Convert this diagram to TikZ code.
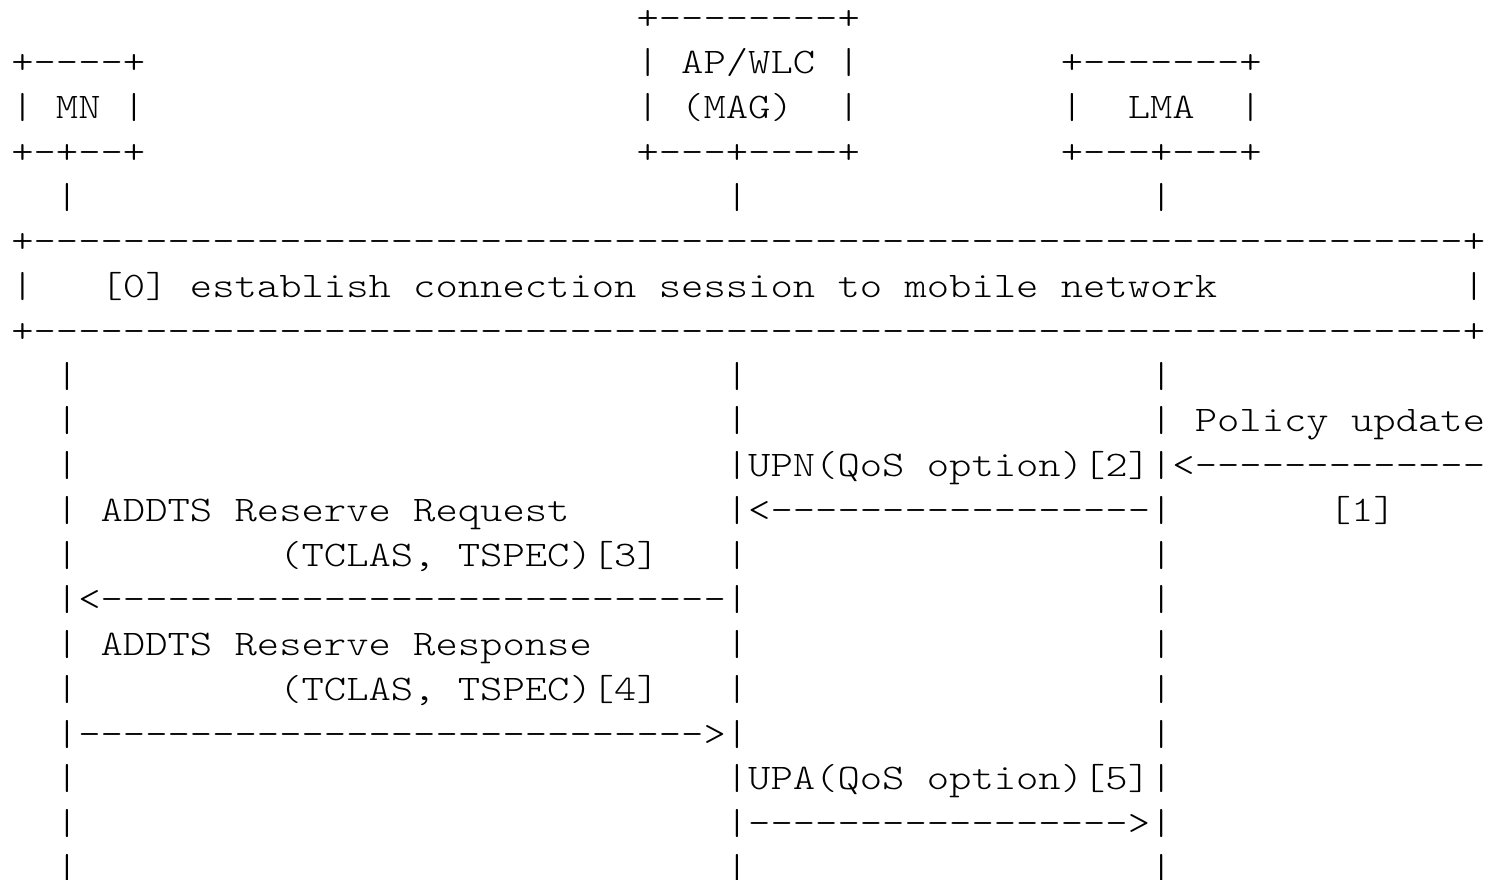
\documentclass[tikz,border=0pt]{standalone}
\usepackage{graphicx}

% one cell of the character grid is 22.33 x 44.75 units
\tikzset{
  ascii/.style={anchor=base west, inner sep=0pt, outer sep=0pt, text=black,
    font=\fontsize{18pt}{21pt}\ttfamily\fontseries{l}\selectfont}
}
% \putchunk{name}{column}{row}{text}
\newcommand\putchunk[4]{%
  \node[ascii] (#1) at ({11.3+22.33*#2},{29+44.75*#3}) {\scalebox{1.1815}[1]{#4}};}

\begin{document}
\begin{tikzpicture}[x=0.5pt, y=-0.5pt]
  \useasboundingbox (0,0) rectangle (1499,879);

  % entity boxes
  \putchunk{magTop}{28}{0}{+--------+}
  \putchunk{mnTop}{0}{1}{+----+}
  \putchunk{magA}{28}{1}{| AP/WLC |}
  \putchunk{lmaTop}{47}{1}{+-------+}
  \putchunk{mnMid}{0}{2}{| MN |}
  \putchunk{magB}{28}{2}{| (MAG)~~|}
  \putchunk{lmaMid}{47}{2}{|~~LMA~~|}
  \putchunk{mnBot}{0}{3}{+-+--+}
  \putchunk{magBot}{28}{3}{+---+----+}
  \putchunk{lmaBot}{47}{3}{+---+---+}

  % lifelines above the session box
  \putchunk{mnL4}{2}{4}{|}
  \putchunk{magL4}{32}{4}{|}
  \putchunk{lmaL4}{51}{4}{|}

  % session establishment box
  \putchunk{sesTop}{0}{5}{+----------------------------------------------------------------+}
  \putchunk{sesText}{0}{6}{|~~~[0] establish connection session to mobile network}
  \putchunk{sesRight}{65}{6}{|}
  \putchunk{sesBot}{0}{7}{+----------------------------------------------------------------+}

  % row 8
  \putchunk{mnL8}{2}{8}{|}
  \putchunk{magL8}{32}{8}{|}
  \putchunk{lmaL8}{51}{8}{|}

  % [1] policy update and [2] UPN
  \putchunk{mnL9}{2}{9}{|}
  \putchunk{magL9}{32}{9}{|}
  \putchunk{policy}{51}{9}{| Policy update}
  \putchunk{mnL10}{2}{10}{|}
  \putchunk{upn}{32}{10}{|UPN(QoS option)[2]|<-------------}
  \putchunk{addtsReq}{2}{11}{| ADDTS Reserve Request}
  \putchunk{upnArrow}{32}{11}{|<-----------------|}
  \putchunk{polNum}{59}{11}{[1]}

  % [3] ADDTS request
  \putchunk{mnL12}{2}{12}{|}
  \putchunk{reqArgs}{12}{12}{(TCLAS, TSPEC)[3]}
  \putchunk{magL12}{32}{12}{|}
  \putchunk{lmaL12}{51}{12}{|}
  \putchunk{reqArrow}{2}{13}{|<----------------------------|}
  \putchunk{lmaL13}{51}{13}{|}

  % [4] ADDTS response
  \putchunk{addtsRsp}{2}{14}{| ADDTS Reserve Response}
  \putchunk{magL14}{32}{14}{|}
  \putchunk{lmaL14}{51}{14}{|}
  \putchunk{mnL15}{2}{15}{|}
  \putchunk{rspArgs}{12}{15}{(TCLAS, TSPEC)[4]}
  \putchunk{magL15}{32}{15}{|}
  \putchunk{lmaL15}{51}{15}{|}
  \putchunk{rspArrow}{2}{16}{|---------------------------->|}
  \putchunk{lmaL16}{51}{16}{|}

  % [5] UPA
  \putchunk{mnL17}{2}{17}{|}
  \putchunk{upa}{32}{17}{|UPA(QoS option)[5]|}
  \putchunk{mnL18}{2}{18}{|}
  \putchunk{upaArrow}{32}{18}{|----------------->|}
  \putchunk{mnL19}{2}{19}{|}
  \putchunk{magL19}{32}{19}{|}
  \putchunk{lmaL19}{51}{19}{|}
\end{tikzpicture}
\end{document}
